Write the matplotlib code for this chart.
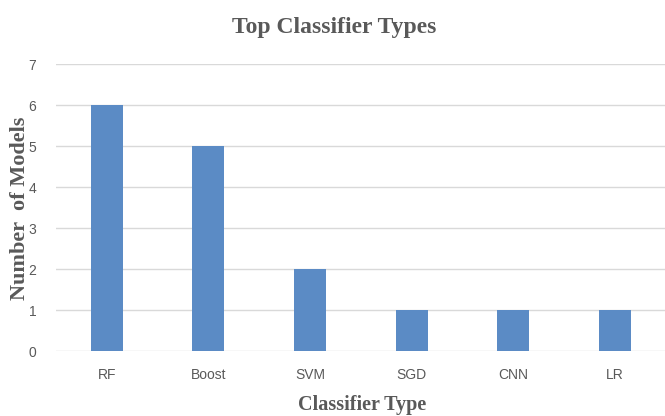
import matplotlib.pyplot as plt
import numpy as np

classifiers = ["RF", "Boost", "SVM", "SGD", "CNN", "LR"]
model_counts = [6, 5, 2, 1, 1, 1]
y_ticks = [0, 1, 2, 3, 4, 5, 6, 7]

bar_color = "#5b8bc5"
grid_color = "#d9d9d9"
text_color = "#595959"
serif = ["Liberation Serif", "DejaVu Serif"]
narrow = ["Liberation Sans Narrow", "Liberation Sans", "DejaVu Sans"]

fig = plt.figure(figsize=(6.65, 4.16), dpi=100)
ax = fig.add_axes([0.084, 0.156, 0.917, 0.69])

x = np.arange(len(classifiers))
ax.bar(x, model_counts, width=0.315, color=bar_color, zorder=3)

ax.set_xlim(-0.5, len(classifiers) - 0.5)
ax.set_ylim(0, 7)
ax.set_yticks(y_ticks)
ax.set_xticks(x)
ax.set_xticklabels(classifiers, family=narrow, fontsize=10, color=text_color)
ax.set_yticklabels([str(v) for v in y_ticks], family=narrow, fontsize=10, color=text_color)
ax.tick_params(axis="x", length=0, pad=12)
ax.tick_params(axis="y", length=0, pad=14)

ax.grid(axis="y", color=grid_color, linewidth=1, zorder=0)
for s in ax.spines.values():
    s.set_visible(False)

fig.text(0.503, 0.935, "Top Classifier Types", ha="center", va="center",
         family=serif, fontsize=17, fontweight="bold", color=text_color)
fig.text(0.544, 0.026, "Classifier Type", ha="center", va="center",
         family=serif, fontsize=14.5, fontweight="bold", color=text_color)
fig.text(0.03, 0.5, "Number  of Models", ha="center", va="center", rotation=90,
         family=serif, fontsize=16, fontweight="bold", color=text_color)

fig.savefig("out.png", dpi=100)
